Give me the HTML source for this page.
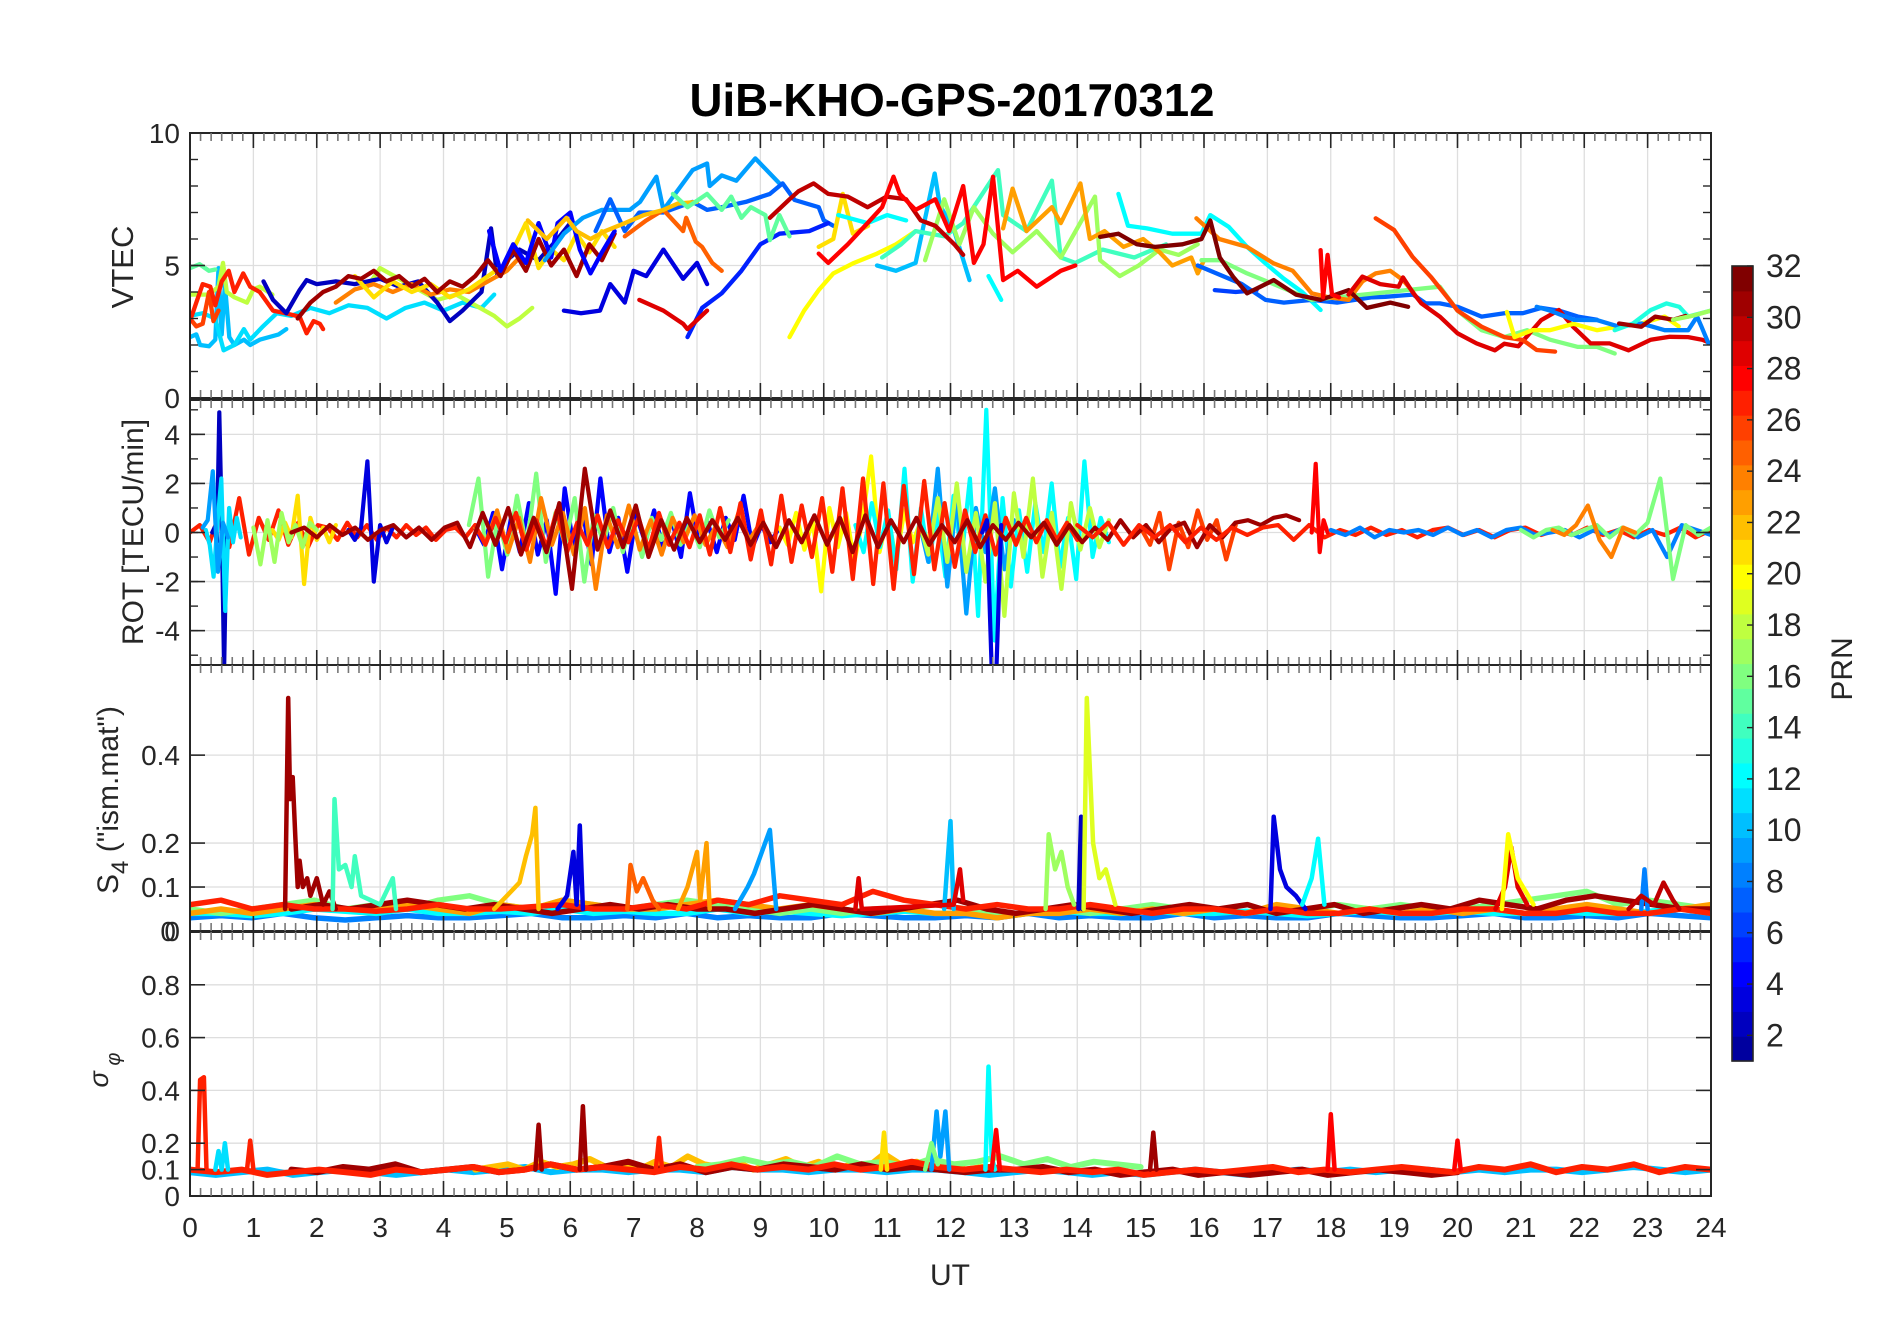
<!DOCTYPE html>
<html><head><meta charset="utf-8"><title>UiB-KHO-GPS-20170312</title>
<style>
html,body{margin:0;padding:0;background:#fff;}
svg{display:block;font-family:"Liberation Sans",Arial,sans-serif;}
</style></head>
<body>
<svg id="fig" width="1902" height="1330" viewBox="0 0 1902 1330" xmlns="http://www.w3.org/2000/svg">
<rect x="0" y="0" width="1902" height="1330" fill="#fff"/>
<text x="952" y="116" font-size="46" font-weight="bold" text-anchor="middle" textLength="525" lengthAdjust="spacingAndGlyphs" fill="#000">UiB-KHO-GPS-20170312</text>
<g id="layer"></g>
</svg>
<script>
// ---------------- DATA ----------------
const hourTicks = [0,1,2,3,4,5,6,7,8,9,10,11,12,13,14,15,16,17,18,19,20,21,22,23,24];
const vtecTicks = [0,5,10];
const rotTicks = [-4,-2,0,2,4];
const s4Ticks = [0,0.1,0.2,0.4];
const sigTicks = [0,0.1,0.2,0.4,0.6,0.8];
const prnTicks = [2,4,6,8,10,12,14,16,18,20,22,24,26,28,30,32];

// VTEC series: [hour, TECU]
const vtec_p10a = [[0,2.3],[0.1,2.4],[0.16,2.0],[0.3,1.95],[0.4,2.2],[0.45,4.9],[0.5,2.4],[0.55,4.3],[0.62,2.3],[0.7,2.0],[0.85,2.2],[0.95,2.0],[1.1,2.2],[1.25,2.3],[1.4,2.4],[1.52,2.6]];
const vtec_p11 = [[0,3.1],[0.2,3.2],[0.4,3.0],[0.53,1.8],[0.7,2.0],[0.85,2.6],[0.95,2.2],[1.15,2.7],[1.37,3.2],[1.6,3.1],[1.9,3.4],[2.2,3.2],[2.5,3.5],[2.8,3.4],[3.1,3.0],[3.4,3.4],[3.7,3.6],[4.0,3.3],[4.3,3.6],[4.6,3.4],[4.8,3.9]];
const vtec_p15a = [[0,4.9],[0.15,5.05],[0.3,4.8],[0.4,4.85]];
const vtec_p18a = [[0,3.9],[0.3,3.9],[0.45,4.2],[0.52,5.1],[0.58,4.0],[0.7,3.8],[0.9,3.6],[1.0,4.1],[1.1,4.2],[1.3,3.9]];
const vtec_p18b = [[2.8,4.2],[3.0,4.9],[3.3,4.5],[3.6,4.1],[3.9,3.7],[4.2,3.9],[4.5,3.5],[4.8,3.1],[5.0,2.7],[5.2,3.0],[5.4,3.4]];
const vtec_p27a = [[0,2.9],[0.1,3.6],[0.2,4.3],[0.32,4.2],[0.4,3.5],[0.5,4.4],[0.61,4.8],[0.7,4.0],[0.84,4.7],[0.95,4.2],[1.1,4.0],[1.31,3.3],[1.5,3.2],[1.73,3.07],[1.84,2.44],[1.95,2.9],[2.05,2.8],[2.1,2.6]];
const vtec_p26a = [[0,3.0],[0.1,2.7],[0.2,2.8],[0.3,4.0],[0.37,2.9],[0.45,3.3]];
const vtec_p2 = [[1.16,4.4],[1.31,3.7],[1.52,3.2],[1.73,4.07],[1.84,4.45],[2.0,4.3],[2.3,4.4],[2.6,4.3],[3.0,4.5],[3.3,4.2],[3.6,4.4],[3.9,3.6],[4.1,2.9],[4.3,3.3],[4.6,4.0],[4.75,6.4],[4.85,4.6],[5.0,5.2],[5.2,5.6],[5.5,5.2],[5.8,6.0],[6.0,6.6]];
const vtec_p31 = [[1.7,3.0],[1.9,3.6],[2.1,4.0],[2.3,4.2],[2.5,4.6],[2.7,4.5],[2.9,4.8],[3.1,4.4],[3.3,4.6],[3.5,4.2],[3.7,4.5],[3.9,4.0],[4.1,4.4],[4.3,4.2],[4.5,4.6],[4.7,5.2],[4.9,4.6],[5.1,5.6],[5.3,4.8],[5.5,6.0],[5.7,5.0],[5.9,5.6],[6.1,4.6],[6.3,5.8],[6.5,5.2],[6.7,6.2]];
const vtec_p24a = [[2.3,3.6],[2.6,4.1],[2.9,4.3],[3.2,4.0],[3.5,4.3],[3.8,3.9],[4.1,4.1],[4.4,4.0],[4.7,4.4],[5.0,4.8],[5.2,5.3]];
const vtec_p21a = [[2.6,4.6],[2.9,3.8],[3.2,4.4],[3.5,4.0],[3.8,4.3],[4.1,3.8],[4.4,4.1],[4.7,4.6],[5.0,5.1],[5.3,6.6],[5.5,4.9],[5.7,5.6],[5.9,5.2],[6.1,6.2],[6.3,5.5],[6.5,6.3],[6.7,5.7]];
const vtec_p4 = [[4.72,6.3],[4.9,4.8],[5.1,5.8],[5.3,5.1],[5.5,6.6],[5.7,5.3],[5.8,6.6],[6.0,7.0],[6.15,5.6],[6.32,4.7],[6.5,5.5],[6.7,6.3]];
const vtec_p9 = [[5.6,5.2],[5.9,6.2],[6.2,6.8],[6.5,7.1],[6.94,7.1],[7.1,7.4],[7.36,8.35],[7.47,7.1],[7.7,7.85],[7.93,8.6],[8.16,8.85],[8.2,8.0],[8.39,8.4],[8.62,8.2],[8.92,9.04],[9.15,8.47],[9.3,8.1]];
const vtec_p7 = [[6.4,6.3],[6.63,7.5],[6.86,6.3],[7.09,7.0],[7.47,7.0],[7.93,7.4],[8.16,7.1],[8.39,7.2],[8.77,7.4],[9.15,7.7],[9.35,8.1],[9.54,7.47],[9.92,7.2],[10.0,6.7],[10.15,6.5]];
const vtec_p5 = [[7.85,2.3],[8.08,3.4],[8.39,3.95],[8.7,4.8],[9.0,5.8],[9.3,6.2],[9.77,6.3],[10.07,6.6]];
const vtec_p3a = [[5.9,3.3],[6.17,3.2],[6.47,3.3],[6.63,4.3],[6.86,3.6],[7.0,4.8],[7.2,4.6],[7.47,5.6],[7.78,4.5],[8.0,5.1],[8.16,4.3]];
const vtec_p29a = [[7.09,3.7],[7.47,3.3],[7.78,2.8],[7.85,2.6],[8.16,3.3]];
const vtec_p25 = [[6.86,6.1],[7.2,6.7],[7.47,7.1],[7.78,6.3],[7.83,6.8],[7.98,5.9],[8.08,5.7],[8.24,5.1],[8.39,4.8]];
const vtec_p22 = [[5.33,6.7],[5.63,6.0],[5.94,6.8],[6.1,6.3],[6.32,6.0],[6.55,6.3],[6.86,6.6],[7.16,6.9],[7.47,7.1],[7.7,7.34],[8.0,7.4]];
const vtec_p15b = [[7.62,7.7],[7.85,7.2],[8.16,7.7],[8.39,7.1],[8.54,7.6],[8.7,6.8],[8.85,7.2],[9.08,6.9],[9.15,5.96],[9.3,6.9],[9.46,6.1]];
const vtec_p30 = [[9.15,6.8],[9.46,7.5],[9.6,7.8],[9.84,8.1],[10.07,7.7],[10.38,7.6],[10.69,7.2],[10.99,7.6],[11.3,7.5],[11.53,6.7],[11.76,6.5],[12.06,5.8],[12.2,5.4]];
const vtec_p28a = [[9.92,5.45],[10.07,5.1],[10.38,5.8],[10.69,6.6],[10.92,7.2],[11.1,8.35],[11.2,7.7],[11.45,7.1],[11.76,7.5],[11.98,6.3],[12.2,8.0],[12.37,5.1],[12.52,5.8],[12.67,8.35],[12.83,4.45],[13.06,4.8],[13.36,4.2],[13.74,4.8],[13.97,5.0]];
const vtec_p20a = [[9.46,2.3],[9.69,3.3],[9.92,4.07],[10.15,4.7],[10.46,5.08],[10.84,5.45],[11.14,5.8],[11.45,6.3]];
const vtec_p21b = [[9.92,5.7],[10.15,6.0],[10.3,7.7],[10.46,6.2],[10.7,6.5]];
const vtec_p12a = [[10.23,6.9],[10.69,6.6],[11.0,6.9],[11.3,6.7]];
const vtec_p12b = [[12.6,4.6],[12.8,3.7]];
const vtec_p12c = [[14.65,7.7],[14.8,6.5],[15.1,6.4],[15.5,6.2],[15.96,6.2],[16.1,6.9],[16.39,6.46],[16.68,5.7],[16.97,5.08],[17.26,4.5],[17.55,4.0],[17.84,3.32]];
const vtec_p10b = [[10.84,5.0],[11.14,4.8],[11.45,5.1],[11.75,8.47],[11.83,7.3],[12.06,6.3],[12.3,4.45]];
const vtec_p14 = [[10.92,5.3],[11.22,5.8],[11.45,6.3],[11.9,6.1],[12.2,6.6],[12.75,8.6],[12.83,6.9],[13.2,6.3],[13.6,8.2],[13.74,5.3],[13.97,5.1],[14.4,5.6],[14.9,5.3],[15.4,5.8]];
const vtec_p23 = [[12.83,6.4],[12.98,7.9],[13.2,6.3],[13.6,7.2],[13.74,6.6],[14.05,8.1],[14.2,6.0],[14.43,6.3],[14.73,5.7],[15.04,6.0],[15.3,5.5],[15.5,5.0],[15.8,5.3],[15.9,4.7],[16.0,5.2]];
const vtec_p17a = [[11.6,5.2],[11.9,7.5],[12.14,5.8],[12.37,7.2],[12.67,6.2],[12.98,5.5],[13.36,6.3],[13.74,5.3],[14.28,7.6],[14.36,5.2],[14.67,4.6],[14.97,5.0],[15.3,5.6],[15.6,5.4],[15.9,5.8]];
const vtec_p32 = [[14.36,6.08],[14.65,6.2],[14.94,5.8],[15.23,5.7],[15.66,5.8],[15.96,6.0],[16.1,6.7],[16.25,5.3],[16.46,4.57],[16.68,3.95],[17.1,4.45],[17.45,3.9],[17.84,3.7],[18.28,4.07],[18.57,3.4],[18.94,3.6],[19.22,3.44]];
const vtec_p6 = [[16.17,4.07],[16.5,4.0],[16.83,4.07]];
const vtec_p7b = [[15.9,5.0],[16.3,4.6],[16.6,4.3],[16.97,3.7],[17.26,3.6],[17.7,3.7],[18.1,3.6],[18.65,3.8],[18.86,3.82],[19.3,3.9],[19.5,3.57],[19.72,3.57],[20.0,3.44],[20.38,3.07],[20.74,3.2],[21.03,3.2],[21.32,3.4],[21.6,3.3],[21.9,3.07],[22.2,2.95]];
const vtec_p26b = [[18.71,6.78],[19.0,6.34],[19.14,5.85],[19.29,5.33],[19.58,4.57],[19.87,3.7],[20.0,3.3],[20.38,2.69],[20.74,2.3],[21.03,2.19],[21.25,1.81],[21.54,1.75]];
const vtec_p24b = [[15.88,6.78],[16.24,6.0],[16.68,5.7],[17.1,5.08],[17.4,4.8],[17.7,3.95],[17.97,3.8],[18.28,3.7],[18.5,4.4],[18.71,4.7],[18.94,4.8],[19.14,4.45],[19.3,4.0]];
const vtec_p28b = [[17.84,5.58],[17.88,3.8],[17.95,5.4],[18.02,3.9],[18.13,3.8]];
const vtec_p29b = [[18.28,3.9],[18.5,4.58],[18.78,4.3],[19.07,4.2],[19.14,4.55],[19.29,4.0],[19.43,3.57],[19.72,3.07],[20.0,2.44],[20.3,2.06],[20.59,1.8],[20.74,2.05],[20.96,1.95],[21.32,2.94],[21.6,3.32],[21.82,2.7],[22.1,2.06],[22.4,2.06],[22.7,1.8],[23.05,2.2],[23.35,2.31],[23.64,2.3],[23.86,2.2],[24.0,2.06]];
const vtec_p16 = [[15.96,5.2],[16.25,5.2],[16.68,4.7],[17.1,4.3],[17.7,3.7],[19.72,4.2],[20.0,3.3],[20.38,2.56],[20.74,2.3],[21.1,2.56],[21.46,2.2],[21.9,1.93],[22.2,1.93],[22.48,1.68]];
const vtec_p20b = [[20.78,3.25],[20.9,2.3],[21.18,2.56],[21.46,2.56],[21.83,2.8],[22.2,2.56],[22.55,2.7],[22.9,2.81],[23.27,3.07],[23.49,2.7]];
const vtec_p8 = [[21.25,3.44],[21.46,3.3],[21.83,2.95],[22.2,2.94],[22.55,2.69],[22.9,2.81],[23.27,2.56],[23.64,2.56],[23.78,3.07],[23.85,2.69],[23.96,2.06]];
const vtec_p13 = [[22.48,2.56],[22.77,2.81],[23.05,3.32],[23.3,3.57],[23.5,3.44],[23.64,3.07],[24.0,3.3]];
const vtec_p31b = [[22.55,2.81],[22.9,2.69],[23.12,3.07],[23.4,2.95],[23.6,3.1]];
const vtec_p17b = [[23.4,2.95],[23.7,3.1],[24.0,3.3]];

const vtecSeries = [
 [10,vtec_p10a],[11,vtec_p11],[15,vtec_p15a],[18,vtec_p18a],[18,vtec_p18b],[26,vtec_p26a],[27,vtec_p27a],[2,vtec_p2],
 [24,vtec_p24a],[21,vtec_p21a],[31,vtec_p31],[4,vtec_p4],[9,vtec_p9],[7,vtec_p7],[5,vtec_p5],[3,vtec_p3a],[29,vtec_p29a],
 [25,vtec_p25],[22,vtec_p22],[15,vtec_p15b],[20,vtec_p20a],[21,vtec_p21b],[12,vtec_p12a],[10,vtec_p10b],[14,vtec_p14],
 [17,vtec_p17a],[23,vtec_p23],[30,vtec_p30],[28,vtec_p28a],[12,vtec_p12b],[12,vtec_p12c],[6,vtec_p6],[7,vtec_p7b],
 [16,vtec_p16],[24,vtec_p24b],[32,vtec_p32],[28,vtec_p28b],[29,vtec_p29b],[26,vtec_p26b],[20,vtec_p20b],[8,vtec_p8],
 [13,vtec_p13],[31,vtec_p31b],[17,vtec_p17b]
];

// ROT series: evenly spaced values between start and end hour
const rot_p27a = [0,0.3,-0.4,0.8,-0.6,1.4,-0.9,0.6,-0.3,0.9,-0.5,0.4,-0.6,0.3,0.2,-0.3,0.4,-0.2,0.3,-0.3,0.2,-0.2,0.3,-0.1,0.2,-0.3,0.1,0.2,-0.2,0.3];
const rot_p2 = [0,0.2,-0.4,4.9,0.5,-5.6,-0.3,0.2,0];
const rot_p11 = [0.1,-0.5,-1.8,0.4,2.2,-3.2,1.0,-0.4,0.6,-0.2];
const rot_p9a = [0.2,0.5,2.5,-1.6,0.4,-0.2];
const rot_p21 = [0.1,-0.3,0.4,-0.2,1.5,-2.1,0.6,-0.3,0.2,-0.4,0.3];
const rot_p17a = [0.2,-1.3,0.5,-1.2,0.8,-0.4,0.3,-0.6,0.4,0.1];
const rot_p3a = [0.1,-0.3,0.2,2.9,-2.0,0.3,-0.4,0.2];
const rot_p4 = [0.2,-0.5,0.8,-1.5,0.6,-0.8,1.2,-0.9,0.5,-2.5,1.8,-0.6,0.9,-1.3,2.2,-0.8,0.6,-1.6,0.7,-0.4,0.9,-0.7,0.5,-1.0,1.6,-0.5,0.4,-0.8,0.6,-0.3,1.5,-0.6,0.3,-0.4,0.2];
const rot_p16 = [0.3,2.2,-1.8,0.6,-0.9,1.5,-0.6,2.4,-1.2,0.8,-0.5,1.4,-2.0,0.7,-0.4,1.0,-0.8,0.5,-1.0,0.6,-0.3,0.8,-0.5,0.4,-0.6,0.9,-0.2,0.5];
const rot_p24 = [0.2,-0.4,0.9,-0.8,0.6,-1.2,1.4,-0.5,0.8,-0.9,1.0,-2.3,0.7,-0.6,1.1,-0.7,0.5,-0.9,0.6,-0.4,0.7,-0.5,0.3,-0.6,0.8,-0.3,0.4];
const rot_p20 = [0.2,-0.5,0.8,-0.7,0.5,-2.4,1.0,-0.6,0.8,-1.2,0.6,3.1,-0.8,0.7,-1.1,0.9,-0.4,0.5,-0.6,0.3];
const rot_p12 = [0.3,-0.8,1.2,-0.6,0.9,-1.5,2.6,-2.0,1.0,-1.2,0.8,-1.8,1.5,-1.0,2.2,-3.4,5.0,-4.4,1.4,-2.2,0.9,-1.6,1.2,-0.8,2.0,-1.4,0.6,-1.9,2.9,-1.0,0.6,-0.4];
const rot_p9b = [0.5,-1.2,2.6,-2.2,1.5,-3.3,1.0,-0.8,1.8,-1.5,0.5];
const rot_p18 = [0.5,-0.9,1.4,-1.2,2.0,-1.6,0.8,-2.0,1.2,-3.4,1.6,-1.0,2.2,-1.8,0.8,-2.3,1.2,-0.7,1.0,-0.6,0.5];
const rot_p27b = [0.3,-0.5,0.6,-0.4,0.8,-0.7,0.5,-0.6,0.9,-0.8,0.4,-0.5,0.7,-0.6,0.5,-0.4,0.6,-0.7,0.8,-0.5,0.4,-0.6,0.7,-0.9,1.0,-0.8,1.2,-1.1,0.9,-1.3,1.5,-1.2,1.1,-1.0,1.4,-1.6,1.8,-1.9,2.2,-2.1,2.0,-2.3,1.9,-1.7,2.1,-1.5,1.2,-1.4,0.9,-0.8,0.7,-0.9,0.6,-0.5,0.6,-0.4,0.5,-0.3,0.4,-0.3];
const rot_p3b = [0,0.5,-5.6,-5.6,0.3];
const rot_p26 = [0.2,-0.5,0.8,-1.5,0.4,-0.6,0.9,-0.3,0.5,-1.1,0.3];
const rot_p31 = [0,0.2,-0.2,0.3,-0.1,0.2,-0.3,0.1,0.3,-0.2,0.2,-0.3,0.2,0.4,-0.6,0.8,-0.5,1.0,-0.9,0.6,-0.8,1.2,-2.3,2.6,-0.7,0.9,-0.6,1.1,-1.0,0.5,-0.7,0.6,-0.4,0.5,-0.3,0.6,-0.5,0.4,-0.6,0.5,-0.4,0.7,-0.5,0.6,-0.8,0.7,-0.6,0.5,-0.4,0.6,-0.5,0.3,-0.4,0.5,-0.6,0.3,-0.3,0.4,-0.2,0.4,-0.5,0.3,-0.4,0.2,-0.3,0.5,-0.2,0.3,-0.4,0.2,0.4,-0.6,0.3,-0.2,0.4,0.5,0.3,0.6,0.7,0.5];
const rot_p27c = [0.3,-0.2,0.4,-0.5,0.3,-0.2,0.3,-0.4,0.2,-0.3,0.2,-0.1,0.2,0.3,-0.3,0.3,-0.2,0.1,-0.1,0.2,-0.1,0.1,-0.2,0.1,0.2,-0.1,0.1,-0.2,0.1,0.2,-0.1,0.1,-0.1,0.2,-0.1,0.1,-0.2,0.1,-0.1,0.2,-0.2,0.1];
const rot_p28 = [0,2.8,-0.8,0.5,0];
const rot_p8 = [0.1,-0.1,0.2,-0.2,0.1,0,0.1,-0.1,0.2,-0.1,0.1,-0.2,0.1,0.2,-0.1,0,0.1,-0.2,0.1,-0.1,0.2,-0.2,0.1,-1.0,0.3,0.1,-0.1];
const rot_p16b = [0.1,-0.2,0.1,0.2,-0.1,0.1,0.3,-0.2,0.2,-0.1,0.4,2.2,-1.9,0.3,-0.1,0.2];
const rot_p24b = [0.1,-0.1,0.3,1.1,-0.3,-1.0,0.2,0];
const rotStart = [0,0.35,0.25,0.2,1.3,1.0,2.5,4.5,4.4,4.5,9.3,10.5,11.5,11.5,4.5,12.5,15,1.6,14,17.7,18,21,21.5];
const rotEnd   = [4.5,0.65,0.8,0.6,2.3,2.0,3.2,9.3,8.5,9.0,11.8,14.5,13,14.5,14,12.8,16.5,17.5,24,17.95,24,24,22.8];
const rotPrn   = [27,2,11,9,21,17,3,4,16,24,20,12,9,18,27,3,26,31,27,28,8,16,24];
const rotVals  = [rot_p27a,rot_p2,rot_p11,rot_p9a,rot_p21,rot_p17a,rot_p3a,rot_p4,rot_p16,rot_p24,rot_p20,rot_p12,rot_p9b,rot_p18,rot_p27b,rot_p3b,rot_p26,rot_p31,rot_p27c,rot_p28,rot_p8,rot_p16b,rot_p24b];

// S4 baseline series (evenly spaced over a span)
const s4_b8  = [0.03,0.035,0.03,0.04,0.03,0.025,0.03,0.035,0.03,0.03,0.035,0.04,0.03,0.03,0.035,0.03,0.04,0.03,0.035,0.03,0.03,0.04,0.035,0.03,0.03,0.035,0.03,0.04,0.03,0.035,0.03,0.03,0.04,0.03,0.035,0.03,0.03,0.04,0.035,0.03,0.03,0.035,0.04,0.03,0.03,0.035,0.03,0.04,0.035,0.03];
const s4_b12 = [0.04,0.04,0.035,0.04,0.05,0.045,0.04,0.05,0.04,0.04,0.045,0.04,0.05,0.04,0.045,0.04,0.04,0.05,0.04,0.045,0.04,0.035,0.04,0.045,0.04,0.04,0.035,0.04,0.045,0.04,0.04,0.045,0.04,0.04,0.045,0.04,0.035,0.04,0.045,0.04,0.04,0.045,0.04,0.04,0.045,0.04,0.04,0.045,0.05,0.04];
const s4_b16 = [0.05,0.04,0.05,0.06,0.07,0.05,0.06,0.05,0.07,0.08,0.06,0.05,0.07,0.06,0.05,0.06,0.07,0.06,0.05,0.04,0.05,0.04,0.05,0.05,0.06,0.05,0.04,0.04,0.05,0.04,0.05,0.06,0.05,0.05,0.04,0.05,0.05,0.06,0.05,0.06,0.05,0.05,0.06,0.07,0.08,0.09,0.06,0.07,0.06,0.05];
const s4_b23 = [0.04,0.05,0.04,0.05,0.06,0.05,0.05,0.06,0.05,0.04,0.06,0.05,0.07,0.06,0.05,0.05,0.06,0.07,0.06,0.05,0.06,0.05,0.04,0.05,0.04,0.04,0.03,0.04,0.04,0.05,0.04,0.05,0.04,0.05,0.04,0.06,0.05,0.04,0.05,0.04,0.05,0.04,0.05,0.04,0.05,0.06,0.05,0.04,0.05,0.06];
const s4_b31 = [0.05,0.06,0.05,0.06,0.07,0.06,0.05,0.06,0.05,0.04,0.05,0.06,0.05,0.06,0.05,0.05,0.04,0.05,0.06,0.05,0.04,0.05,0.06,0.07,0.05,0.04,0.05,0.06,0.05,0.04,0.05,0.06,0.05,0.06,0.04,0.05,0.06,0.04,0.05,0.06,0.05,0.07,0.06,0.05,0.07,0.08,0.07,0.06,0.05,0.05];
const s4_b27 = [0.06,0.07,0.05,0.06,0.05,0.05,0.045,0.05,0.06,0.05,0.05,0.055,0.06,0.05,0.05,0.06,0.05,0.07,0.06,0.08,0.07,0.06,0.09,0.07,0.06,0.05,0.06,0.05,0.05,0.06,0.05,0.04,0.05,0.05,0.04,0.05,0.04,0.04,0.05,0.04,0.04,0.05,0.05,0.04,0.04,0.05,0.04,0.04,0.05,0.04];
const s4BaseStart = [0,0,0,0,1.6,0];
const s4BaseEnd   = [24,24,24,24,24,24];
const s4BasePrn   = [8,12,16,23,31,27];
const s4BaseVals  = [s4_b8,s4_b12,s4_b16,s4_b23,s4_b31,s4_b27];
// S4 events: [hour, S4]
const s4_e31 = [[1.5,0.05],[1.55,0.53],[1.58,0.3],[1.62,0.35],[1.66,0.22],[1.7,0.1],[1.73,0.16],[1.78,0.1],[1.85,0.12],[1.9,0.08],[2.0,0.12],[2.1,0.06],[2.2,0.09],[2.3,0.05]];
const s4_e14 = [[2.25,0.05],[2.28,0.3],[2.35,0.14],[2.45,0.15],[2.55,0.1],[2.6,0.17],[2.7,0.08],[2.85,0.07],[3.0,0.06],[3.2,0.12],[3.25,0.05]];
const s4_e22 = [[4.8,0.05],[5.0,0.08],[5.2,0.11],[5.3,0.17],[5.4,0.22],[5.45,0.28],[5.5,0.05]];
const s4_e3a = [[5.8,0.05],[5.95,0.08],[6.05,0.18],[6.1,0.06],[6.15,0.24],[6.2,0.05]];
const s4_e25 = [[6.9,0.05],[6.95,0.15],[7.05,0.09],[7.15,0.12],[7.3,0.07],[7.4,0.05]];
const s4_e23 = [[7.7,0.05],[7.85,0.1],[8.0,0.18],[8.05,0.07],[8.15,0.2],[8.2,0.05]];
const s4_e9  = [[8.6,0.05],[8.8,0.1],[8.9,0.13],[9.05,0.19],[9.15,0.23],[9.25,0.05]];
const s4_e10 = [[11.9,0.05],[12.0,0.25],[12.05,0.05]];
const s4_e29 = [[10.5,0.05],[10.55,0.12],[10.6,0.05],[12.05,0.06],[12.15,0.14],[12.2,0.07]];
const s4_e17 = [[13.5,0.05],[13.55,0.22],[13.65,0.14],[13.75,0.18],[13.85,0.1],[13.95,0.06]];
const s4_e2  = [[14.02,0.05],[14.06,0.26],[14.08,0.05]];
const s4_e19 = [[14.1,0.05],[14.15,0.53],[14.25,0.2],[14.35,0.12],[14.45,0.14],[14.6,0.06]];
const s4_e3b = [[17.05,0.05],[17.1,0.26],[17.2,0.14],[17.3,0.1],[17.45,0.08],[17.6,0.05]];
const s4_e12 = [[17.55,0.06],[17.7,0.12],[17.8,0.21],[17.9,0.06]];
const s4_e29b= [[20.6,0.05],[20.75,0.1],[20.85,0.19],[20.95,0.1],[21.1,0.06]];
const s4_e20 = [[20.7,0.05],[20.8,0.22],[20.95,0.12],[21.2,0.06]];
const s4_e8b = [[22.9,0.05],[22.95,0.14],[23.0,0.05]];
const s4_e30 = [[22.7,0.05],[22.9,0.08],[23.1,0.06],[23.25,0.11],[23.4,0.07],[23.5,0.05]];
const s4Events = [[31,s4_e31],[14,s4_e14],[22,s4_e22],[3,s4_e3a],[25,s4_e25],[23,s4_e23],[9,s4_e9],[10,s4_e10],[29,s4_e29],[17,s4_e17],[2,s4_e2],[19,s4_e19],[3,s4_e3b],[12,s4_e12],[29,s4_e29b],[20,s4_e20],[8,s4_e8b],[30,s4_e30]];

// sigma-phi baseline series
const sg_b10 = [0.09,0.08,0.09,0.1,0.08,0.09,0.1,0.09,0.08,0.09,0.1,0.09,0.1,0.11,0.09,0.1,0.1,0.09,0.1,0.1,0.09,0.11,0.1,0.1,0.09,0.1,0.1,0.09,0.1,0.1,0.09,0.08,0.09,0.1,0.09,0.08,0.09,0.08,0.09,0.1,0.09,0.08,0.09,0.1,0.09,0.1,0.09,0.1,0.1,0.09,0.1,0.09,0.1,0.1,0.09,0.1,0.11,0.1,0.09,0.1];
const sg_b22 = [0.1,0.11,0.12,0.1,0.13,0.11,0.12,0.14,0.11,0.12,0.1,0.13,0.11,0.15,0.12,0.11,0.13,0.1,0.12,0.14,0.11,0.13,0.1,0.12,0.11,0.16,0.12,0.13,0.11,0.12,0.1,0.11];
const sg_b16 = [0.11,0.12,0.14,0.12,0.13,0.11,0.15,0.12,0.13,0.11,0.14,0.12,0.13,0.15,0.12,0.14,0.11,0.13,0.12,0.11];
const sg_b31 = [0.1,0.09,0.11,0.1,0.12,0.09,0.1,0.11,0.09,0.1,0.12,0.1,0.11,0.13,0.1,0.12,0.09,0.11,0.1,0.12,0.11,0.1,0.12,0.1,0.11,0.1,0.09,0.1,0.1,0.11,0.09,0.1,0.08,0.09,0.1,0.08,0.09,0.08,0.09,0.1,0.08,0.09,0.1,0.09,0.08,0.09];
const sg_b27 = [0.1,0.09,0.1,0.08,0.09,0.1,0.09,0.08,0.1,0.09,0.1,0.11,0.09,0.1,0.12,0.1,0.11,0.1,0.09,0.11,0.1,0.12,0.1,0.11,0.1,0.12,0.1,0.11,0.13,0.11,0.1,0.11,0.1,0.09,0.1,0.09,0.1,0.08,0.09,0.1,0.09,0.1,0.11,0.09,0.1,0.09,0.1,0.11,0.1,0.09,0.11,0.1,0.12,0.09,0.11,0.1,0.12,0.09,0.11,0.1];
const sgBaseStart = [0,4.5,8,1.6,0];
const sgBaseEnd   = [24,12.5,15,20,24];
const sgBasePrn   = [10,22,16,31,27];
const sgBaseVals  = [sg_b10,sg_b22,sg_b16,sg_b31,sg_b27];
const sg_e27a = [[0.12,0.1],[0.16,0.44],[0.22,0.45],[0.26,0.1]];
const sg_e11  = [[0.4,0.1],[0.45,0.17],[0.5,0.1],[0.55,0.2],[0.6,0.1]];
const sg_e27b = [[0.9,0.1],[0.95,0.21],[1.0,0.1]];
const sg_e31a = [[5.45,0.1],[5.5,0.27],[5.55,0.1]];
const sg_e31b = [[6.15,0.1],[6.2,0.34],[6.25,0.1]];
const sg_e27c = [[7.35,0.1],[7.4,0.22],[7.45,0.1]];
const sg_e9   = [[11.7,0.1],[11.78,0.32],[11.84,0.15],[11.92,0.32],[11.98,0.1]];
const sg_e16  = [[11.6,0.1],[11.7,0.2],[11.8,0.12]];
const sg_e21  = [[10.9,0.1],[10.95,0.24],[11.0,0.1]];
const sg_e12  = [[12.55,0.1],[12.6,0.49],[12.65,0.15],[12.7,0.1]];
const sg_e28  = [[12.65,0.1],[12.72,0.25],[12.78,0.1]];
const sg_e31c = [[15.15,0.1],[15.2,0.24],[15.25,0.1]];
const sg_e28b = [[17.95,0.1],[18.0,0.31],[18.06,0.1]];
const sg_e28c = [[19.95,0.1],[20.0,0.21],[20.05,0.1]];
const sgEvents = [[27,sg_e27a],[11,sg_e11],[27,sg_e27b],[31,sg_e31a],[31,sg_e31b],[27,sg_e27c],[9,sg_e9],[16,sg_e16],[21,sg_e21],[12,sg_e12],[28,sg_e28],[31,sg_e31c],[28,sg_e28b],[28,sg_e28c]];

// ---------------- RENDER ----------------
const NS = "http://www.w3.org/2000/svg";
const layer = document.getElementById('layer');
const X0 = 190, X1 = 1711;
const panels = [
  {key:'vtec', top:133, bot:398, min:0, max:10},
  {key:'rot',  top:400, bot:665, min:-5.4, max:5.4},
  {key:'s4',   top:665, bot:931, min:0, max:0.605},
  {key:'sig',  top:932, bot:1196, min:0, max:1}
];
function xS(h){ return X0 + (h/24)*(X1-X0); }
function yS(p,v){ return p.bot - (v-p.min)/(p.max-p.min)*(p.bot-p.top); }

function jet(m){
  const n=Math.ceil(m/4), u=[];
  for(let i=1;i<=n;i++)u.push(i/n);
  for(let i=1;i<n;i++)u.push(1);
  for(let i=n;i>=1;i--)u.push(i/n);
  const g0=Math.ceil(n/2)-(m%4===1?1:0);
  const R=new Array(m).fill(0),G=new Array(m).fill(0),B=new Array(m).fill(0);
  for(let k=0;k<u.length;k++){
    const gi=g0+k+1, ri=gi+n, bi=gi-n;
    if(gi>=1&&gi<=m)G[gi-1]=u[k];
    if(ri>=1&&ri<=m)R[ri-1]=u[k];
    if(bi>=1&&bi<=m)B[bi-1]=u[k];
  }
  const out=[];
  for(let i=0;i<m;i++)out.push('rgb('+Math.round(R[i]*255)+','+Math.round(G[i]*255)+','+Math.round(B[i]*255)+')');
  return out;
}
const cmap = jet(32);
function col(prn){ return cmap[Math.max(1,Math.min(32,prn))-1]; }

function el(tag, attrs, parent){
  const e=document.createElementNS(NS,tag);
  for(const k in attrs)e.setAttribute(k,attrs[k]);
  (parent||layer).appendChild(e);
  return e;
}

const defs = el('defs',{});
panels.forEach(p=>{
  const cp=el('clipPath',{id:'clip-'+p.key},defs);
  el('rect',{x:X0,y:p.top,width:X1-X0,height:p.bot-p.top},cp);
});

function txt(x,y,s,attrs,parent){
  const t=el('text',Object.assign({x:x,y:y,fill:'#262626','font-size':28},attrs||{}),parent);
  t.textContent=s;
  return t;
}

const yTicksByPanel = {vtec:vtecTicks, rot:rotTicks, s4:s4Ticks, sig:sigTicks};
panels.forEach(p=>{
  const g=el('g',{});
  
  
  hourTicks.forEach(h=>{
    if(h>0&&h<24) el('line',{x1:xS(h),x2:xS(h),y1:p.top,y2:p.bot,stroke:'#dedede','stroke-width':1.3},g);
  });
  yTicksByPanel[p.key].forEach(v=>{
    const y=yS(p,v);
    if(y>p.top+1&&y<p.bot-1) el('line',{x1:X0,x2:X1,y1:y,y2:y,stroke:'#dedede','stroke-width':1.3},g);
  });
});

const dataLayer = el('g',{});



function pathFromPts(p,pts){
  let d='';
  pts.forEach((q,i)=>{ d+=(i?'L':'M')+xS(q[0]).toFixed(1)+' '+yS(p,q[1]).toFixed(1); });
  return d;
}
function ptsFromSpan(t0,t1,vals){
  const n=vals.length, out=[];
  for(let i=0;i<n;i++) out.push([t0+(t1-t0)*(n>1?i/(n-1):0), vals[i]]);
  return out;
}
function drawLine(p,prn,pts,name,w){
  const path=el('path',{d:pathFromPts(p,pts),fill:'none',stroke:col(prn),'stroke-width':w||4.3,'stroke-linejoin':'round','stroke-linecap':'round','clip-path':'url(#clip-'+p.key+')'},dataLayer);
  
  
}

const P = {vtec:panels[0], rot:panels[1], s4:panels[2], sig:panels[3]};
vtecSeries.forEach(s=>drawLine(P.vtec,s[0],s[1],'vtec-line-prn'+s[0],4.3));
for(let i=0;i<rotVals.length;i++){
  drawLine(P.rot,rotPrn[i],ptsFromSpan(rotStart[i],rotEnd[i],rotVals[i]),'rot-line-prn'+rotPrn[i],4.2);
}
for(let i=0;i<s4BaseVals.length;i++){
  drawLine(P.s4,s4BasePrn[i],ptsFromSpan(s4BaseStart[i],s4BaseEnd[i],s4BaseVals[i]),'s4-line-prn'+s4BasePrn[i],5.5);
}
s4Events.forEach(s=>drawLine(P.s4,s[0],s[1],'s4-event-prn'+s[0],4.5));
for(let i=0;i<sgBaseVals.length;i++){
  drawLine(P.sig,sgBasePrn[i],ptsFromSpan(sgBaseStart[i],sgBaseEnd[i],sgBaseVals[i]),'sigma-line-prn'+sgBasePrn[i],6);
}
sgEvents.forEach(s=>drawLine(P.sig,s[0],s[1],'sigma-event-prn'+s[0],4.5));

const axLayer = el('g',{});


const minorY = {vtec:1, rot:1, s4:null, sig:null};
panels.forEach(p=>{
  el('rect',{x:X0,y:p.top,width:X1-X0,height:p.bot-p.top,fill:'none',stroke:'#262626','stroke-width':2},axLayer);
  for(let k=0;k<=144;k++){
    const h=k/6, x=xS(h), major=(k%6===0), L=major?15:8;
    const c = major?'#262626':'#777';
    el('line',{x1:x,x2:x,y1:p.bot,y2:p.bot-L,stroke:c,'stroke-width':1.6},axLayer);
    el('line',{x1:x,x2:x,y1:p.top,y2:p.top+L,stroke:c,'stroke-width':1.6},axLayer);
  }
  const yt=yTicksByPanel[p.key];
  yt.forEach(v=>{
    const y=yS(p,v);
    el('line',{x1:X0,x2:X0+15,y1:y,y2:y,stroke:'#262626','stroke-width':1.6},axLayer);
    el('line',{x1:X1,x2:X1-15,y1:y,y2:y,stroke:'#262626','stroke-width':1.6},axLayer);
    const lab = txt(180,y+10,String(v),{'text-anchor':'end'},axLayer);
    
    
  });
  if(minorY[p.key]){
    for(let v=Math.ceil(p.min);v<=p.max;v+=minorY[p.key]){
      const y=yS(p,v);
      el('line',{x1:X0,x2:X0+8,y1:y,y2:y,stroke:'#262626','stroke-width':1.4},axLayer);
      el('line',{x1:X1,x2:X1-8,y1:y,y2:y,stroke:'#262626','stroke-width':1.4},axLayer);
    }
  }
});
hourTicks.forEach(h=>{
  const t=txt(xS(h),1237,String(h),{'text-anchor':'middle'},axLayer);
  
  
});

const cb = el('g',{});


const CB_T=266, CB_B=1061, CB_X=1732, CB_W=21;
for(let i=0;i<32;i++){
  const h=(CB_B-CB_T)/32;
  el('rect',{x:CB_X,y:CB_B-(i+1)*h,width:CB_W,height:h+0.6,fill:cmap[i]},cb);
}
el('rect',{x:CB_X,y:CB_T,width:CB_W,height:CB_B-CB_T,fill:'none',stroke:'#262626','stroke-width':1.6},cb);
prnTicks.forEach(v=>{
  const y=CB_B-(v-1)/31*(CB_B-CB_T);
  el('line',{x1:CB_X+CB_W,x2:CB_X+CB_W-6,y1:y,y2:y,stroke:'#262626','stroke-width':1.4},cb);
  const t=txt(1766,y+11,String(v),{'font-size':32},cb);
  
  
});
</script>
<script>
(function(){
  const NS="http://www.w3.org/2000/svg";
  const svg=document.getElementById('fig');
  function add(html){ const g=document.createElementNS(NS,'g'); g.innerHTML=html; svg.appendChild(g); }
  add('<text x="0" y="0" transform="translate(133,267) rotate(-90)" text-anchor="middle" font-size="31" fill="#262626">VTEC</text>');
  add('<text x="0" y="0" transform="translate(143,532) rotate(-90)" text-anchor="middle" font-size="30" fill="#262626">ROT [TECU/min]</text>');
  add('<text x="0" y="0" transform="translate(118,800) rotate(-90)" text-anchor="middle" font-size="30" fill="#262626">S<tspan font-size="24" dy="10">4</tspan><tspan dy="-10"> ("ism.mat")</tspan></text>');
  add('<text x="0" y="0" transform="translate(108,1070) rotate(-90)" text-anchor="middle" font-size="27" font-style="italic" fill="#262626">σ<tspan font-size="20" dy="12"> φ</tspan></text>');
  add('<text x="950" y="1285" text-anchor="middle" font-size="30" fill="#262626">UT</text>');
  add('<text x="0" y="0" transform="translate(1852,669) rotate(-90)" text-anchor="middle" font-size="30" fill="#262626">PRN</text>');
  add('<text x="176" y="941" text-anchor="end" font-size="28" fill="#262626">0</text>');
})();
</script>
</body></html>
